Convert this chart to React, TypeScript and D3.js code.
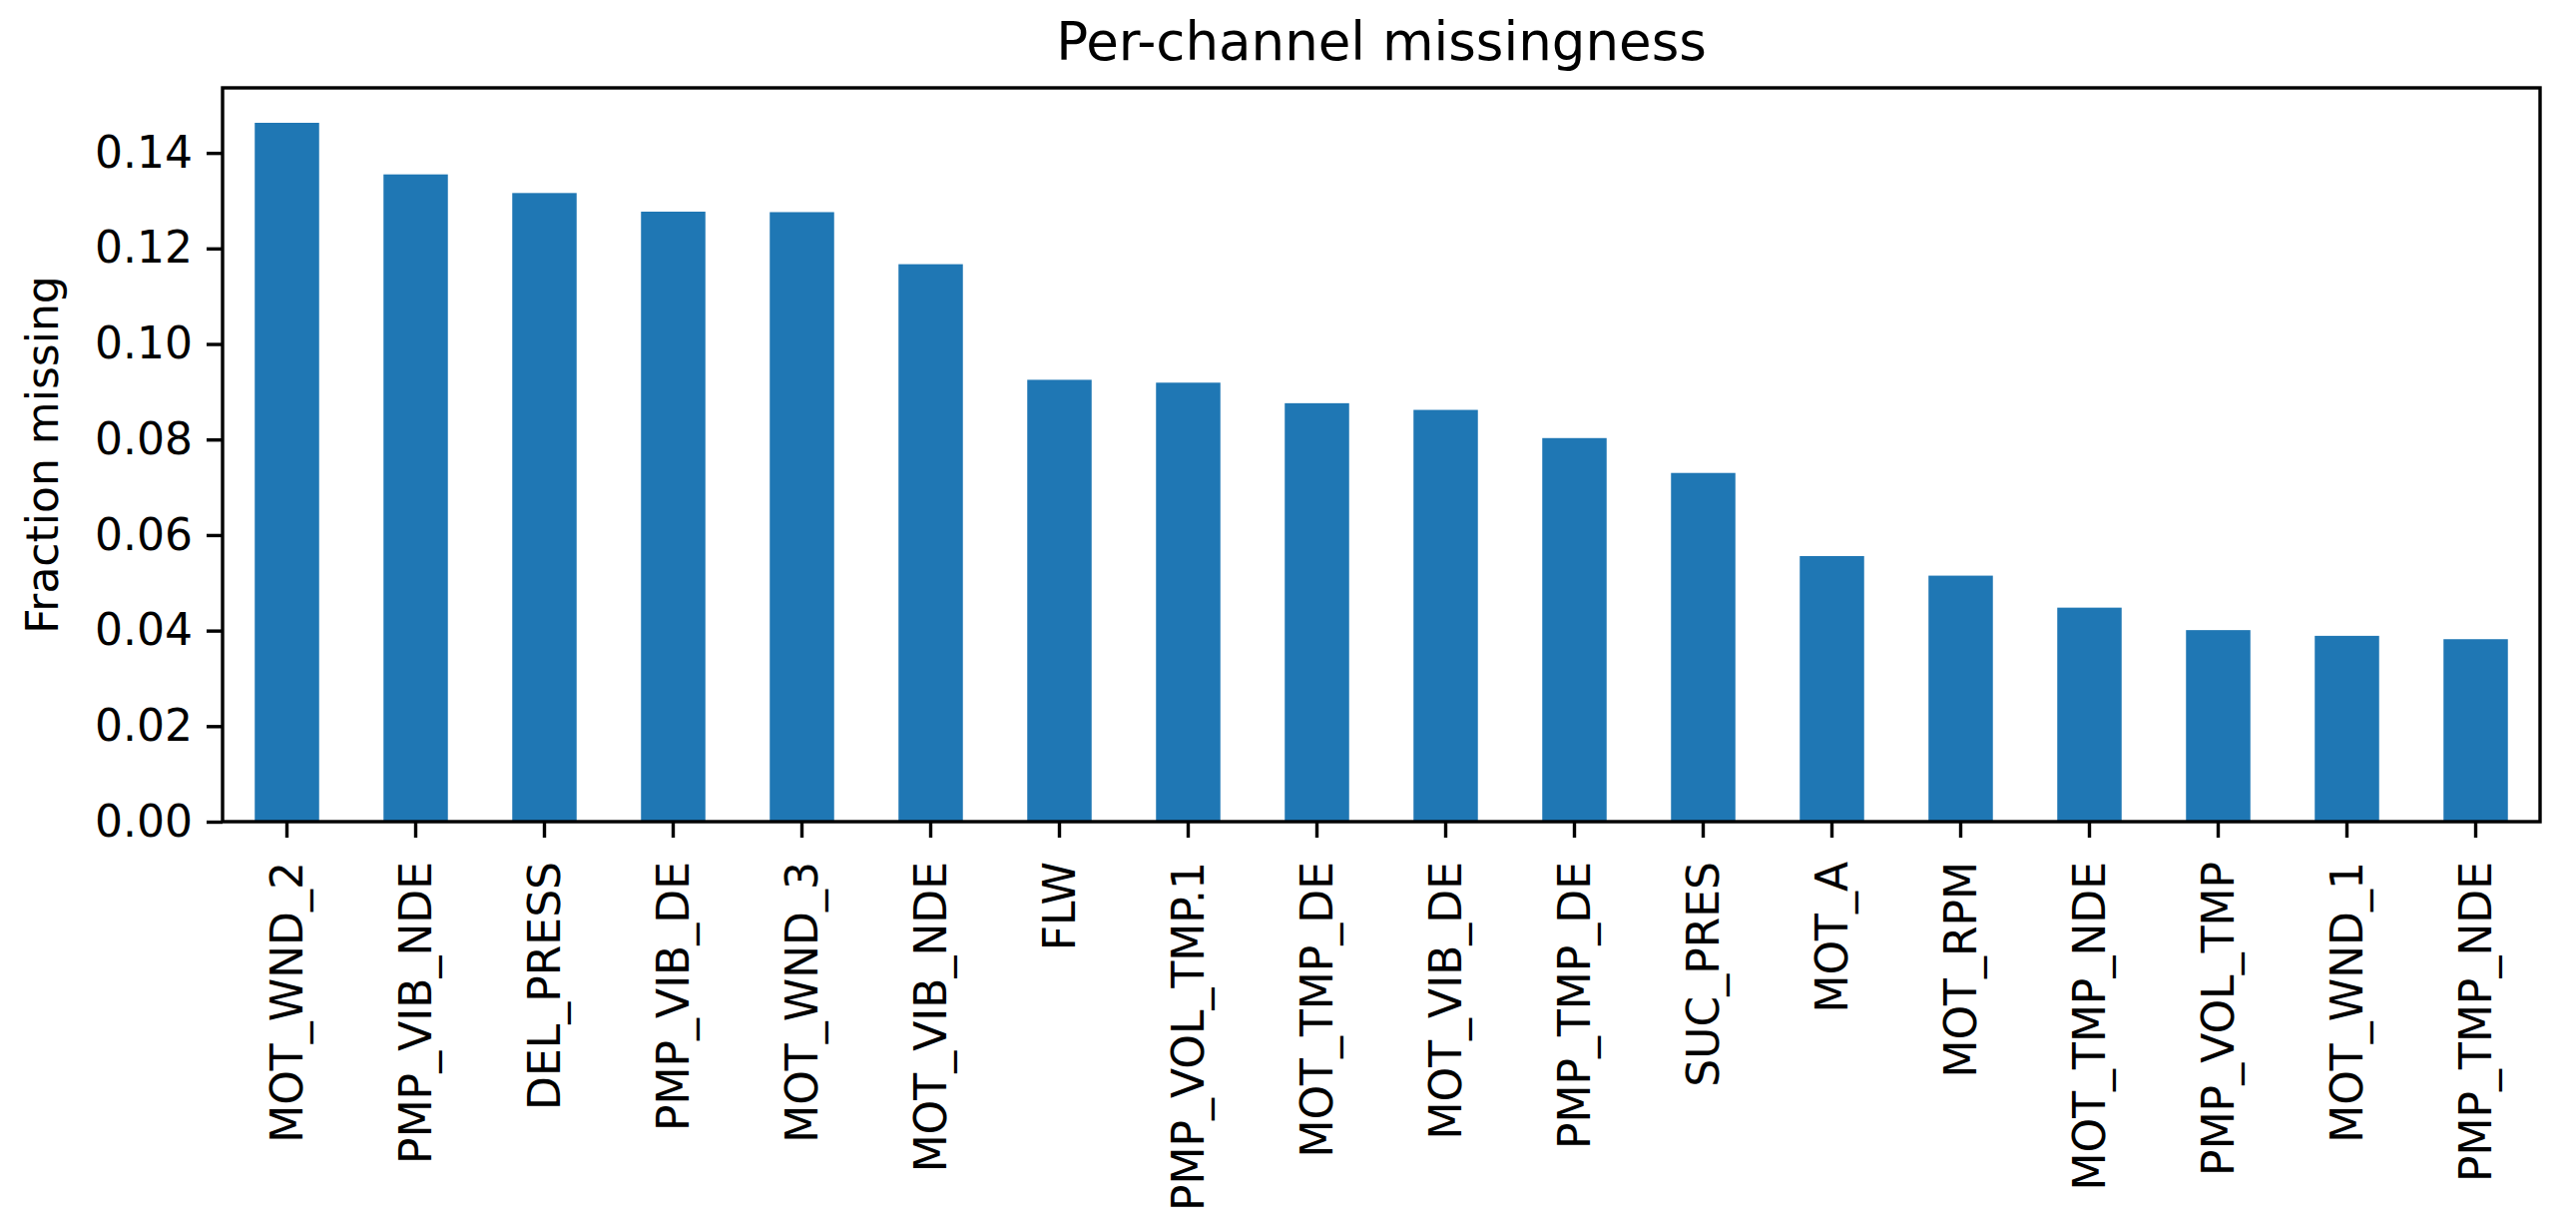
import React, { useEffect, useRef } from "react";
import * as d3 from "d3";

// channels sorted by missing fraction
const channels = [
  "MOT_WND_2",
  "PMP_VIB_NDE",
  "DEL_PRESS",
  "PMP_VIB_DE",
  "MOT_WND_3",
  "MOT_VIB_NDE",
  "FLW",
  "PMP_VOL_TMP.1",
  "MOT_TMP_DE",
  "MOT_VIB_DE",
  "PMP_TMP_DE",
  "SUC_PRES",
  "MOT_A",
  "MOT_RPM",
  "MOT_TMP_NDE",
  "PMP_VOL_TMP",
  "MOT_WND_1",
  "PMP_TMP_NDE",
];

const fractionMissing = [
  0.1463, 0.1355, 0.1316, 0.1277, 0.1276, 0.1167, 0.0925, 0.0919, 0.0876,
  0.0862, 0.0803, 0.073, 0.0556, 0.0515, 0.0448, 0.0401, 0.0389, 0.0382,
];

const yTicks = [0, 0.02, 0.04, 0.06, 0.08, 0.1, 0.12, 0.14];

const W = 2581;
const H = 1234;
const FONT = "'DejaVu Sans', sans-serif";

export default function App() {
  const ref = useRef<SVGSVGElement>(null);

  useEffect(() => {
    const svg = d3.select(ref.current);
    svg.selectAll("*").remove();

    const left = 223;
    const right = 2545;
    const top = 88;
    const bottom = 823;

    const data = channels.map((c, i) => ({ channel: c, value: fractionMissing[i] }));

    const x = d3
      .scaleBand()
      .domain(channels)
      .range([left, right])
      .paddingInner(0.5)
      .paddingOuter(0.25);

    const yMax = d3.max(fractionMissing) * 1.05;
    const y = d3.scaleLinear().domain([0, yMax]).range([bottom, top]);

    svg
      .append("rect")
      .attr("width", W)
      .attr("height", H)
      .attr("fill", "#ffffff");

    // bars
    svg
      .append("g")
      .selectAll("rect")
      .data(data)
      .enter()
      .append("rect")
      .attr("x", d => x(d.channel))
      .attr("y", d => y(d.value))
      .attr("width", x.bandwidth())
      .attr("height", d => bottom - y(d.value))
      .attr("fill", "#1f77b4");

    // y axis
    const yAxis = svg
      .append("g")
      .attr("transform", `translate(${left},0)`)
      .call(
        d3
          .axisLeft(y)
          .tickValues(yTicks)
          .tickFormat(d3.format(".2f"))
          .tickSize(16)
          .tickSizeOuter(0)
          .tickPadding(14)
      );
    yAxis.select(".domain").remove();
    yAxis.selectAll("line").attr("stroke", "#000").attr("stroke-width", 3.4);
    yAxis
      .selectAll("text")
      .attr("font-family", FONT)
      .attr("font-size", 44)
      .attr("fill", "#000");

    // x axis
    const xAxis = svg
      .append("g")
      .attr("transform", `translate(0,${bottom})`)
      .call(d3.axisBottom(x).tickSize(16).tickSizeOuter(0));
    xAxis.select(".domain").remove();
    xAxis.selectAll("line").attr("stroke", "#000").attr("stroke-width", 3.4);
    xAxis
      .selectAll("text")
      .attr("font-family", FONT)
      .attr("font-size", 44)
      .attr("fill", "#000")
      .attr("text-anchor", "end")
      .attr("transform", "rotate(-90)")
      .attr("x", -40)
      .attr("y", 0)
      .attr("dy", "0.36em");

    // frame
    svg
      .append("rect")
      .attr("x", left)
      .attr("y", top)
      .attr("width", right - left)
      .attr("height", bottom - top)
      .attr("fill", "none")
      .attr("stroke", "#000")
      .attr("stroke-width", 3.4);

    // title
    svg
      .append("text")
      .attr("x", (left + right) / 2)
      .attr("y", 60)
      .attr("text-anchor", "middle")
      .attr("font-family", FONT)
      .attr("font-size", 53)
      .attr("fill", "#000")
      .text("Per-channel missingness");

    // y label
    svg
      .append("text")
      .attr("transform", `translate(58,${(top + bottom) / 2}) rotate(-90)`)
      .attr("text-anchor", "middle")
      .attr("font-family", FONT)
      .attr("font-size", 44)
      .attr("fill", "#000")
      .text("Fraction missing");
  }, []);

  return (
    <svg
      ref={ref}
      width={W}
      height={H}
      style={{ position: "absolute", left: 0, top: 0 }}
    ></svg>
  );
}
